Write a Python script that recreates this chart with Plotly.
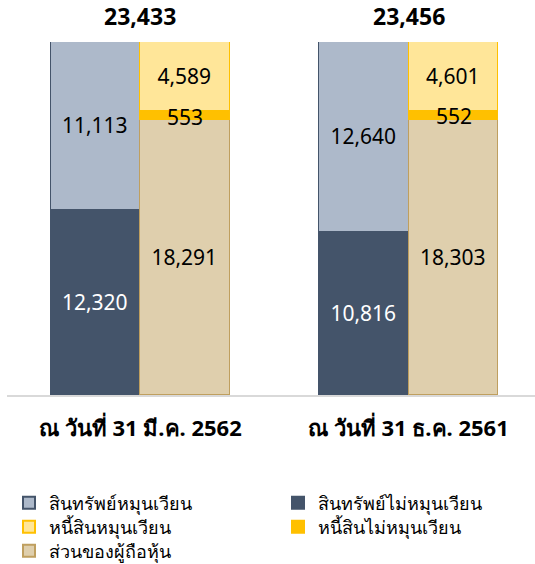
import plotly.graph_objects as go

categories = ["ณ วันที่ 31 มี.ค. 2562", "ณ วันที่ 31 ธ.ค. 2561"]
current_assets = [11113, 12640]
noncurrent_assets = [12320, 10816]
current_liab = [4589, 4601]
noncurrent_liab = [553, 552]
equity = [18291, 18303]

asset_x = [0, 3]
liab_x = [1, 4]
group_x = [0.5, 3.5]
totals = [a + b for a, b in zip(current_assets, noncurrent_assets)]

FONT = "Tahoma, 'Noto Sans', 'DejaVu Sans', sans-serif"

def fmt(v):
    return [f"{x:,}" for x in v]

fig = go.Figure()

def add_bar(x, y, name, fill, line, txtcolor, legend, show_text=True):
    fig.add_trace(go.Bar(
        x=x, y=y, name=name, width=1.0, legend=legend,
        marker=dict(color=fill, line=dict(color=line, width=1.5)),
        text=fmt(y) if show_text else None,
        textposition="inside" if show_text else "none",
        insidetextanchor="middle",
        textangle=0, constraintext="none",
        textfont=dict(family=FONT, size=21, color=txtcolor),
        hoverinfo="skip",
    ))

add_bar(asset_x, noncurrent_assets, "สินทรัพย์ไม่หมุนเวียน", "#44546A", "#44546A", "white", "legend2")
add_bar(asset_x, current_assets, "สินทรัพย์หมุนเวียน", "#ADB9CA", "#44546A", "black", "legend")
add_bar(liab_x, equity, "ส่วนของผู้ถือหุ้น", "#DFCFAD", "#BF9F5F", "black", "legend5")
add_bar(liab_x, noncurrent_liab, "หนี้สินไม่หมุนเวียน", "#FFC000", "#FFC000", "black", "legend4", show_text=False)
add_bar(liab_x, current_liab, "หนี้สินหมุนเวียน", "#FFE699", "#FFC000", "black", "legend3")

# labels for the thin non-current liabilities segment (drawn above all bars)
for lx, e, n in zip(liab_x, equity, noncurrent_liab):
    fig.add_annotation(x=lx, y=e + n / 2, text=f"{n:,}", showarrow=False,
                       yanchor="middle", yshift=-1,
                       font=dict(family=FONT, size=21, color="black"))

for gx, t in zip(group_x, totals):
    fig.add_annotation(x=gx, y=t, text=f"<b>{t:,}</b>", showarrow=False,
                       yanchor="bottom", yshift=8,
                       font=dict(family=FONT, size=23, color="black"))

for gx, c in zip(group_x, categories):
    fig.add_annotation(x=gx, y=0, text=f"<b>{c}</b>", showarrow=False,
                       yanchor="top", yshift=-15,
                       font=dict(family=FONT, size=22, color="black"))

PLOT_TOP, PLOT_BOTTOM, PLOT_LEFT, PLOT_W = 42, 395, 7, 528
PLOT_H = PLOT_BOTTOM - PLOT_TOP

def leg(text_x_px, row_center_px):
    return dict(orientation="h", x=(text_x_px - 43 - PLOT_LEFT) / PLOT_W, xanchor="left",
                y=-(row_center_px - PLOT_BOTTOM) / PLOT_H, yanchor="middle",
                font=dict(family=FONT, size=18, color="black"),
                bgcolor="rgba(0,0,0,0)", itemsizing="constant")

fig.update_layout(
    width=535, height=564,
    margin=dict(l=PLOT_LEFT, r=0, t=PLOT_TOP, b=564 - PLOT_BOTTOM, autoexpand=False),
    barmode="stack", bargap=0,
    plot_bgcolor="white", paper_bgcolor="white",
    xaxis=dict(range=[-0.99, 4.91], showticklabels=False, showgrid=False,
               zeroline=False, showline=True, linecolor="#D9D9D9", linewidth=2,
               fixedrange=True),
    yaxis=dict(range=[0, 23456], visible=False, showgrid=False, fixedrange=True),
    showlegend=True,
    legend=leg(52, 503),
    legend2=leg(321, 503),
    legend3=leg(52, 527),
    legend4=leg(321, 527),
    legend5=leg(52, 551),
)

fig.write_html("out.html", config={"displayModeBar": False},
               post_script="document.body.style.margin='0px';")
